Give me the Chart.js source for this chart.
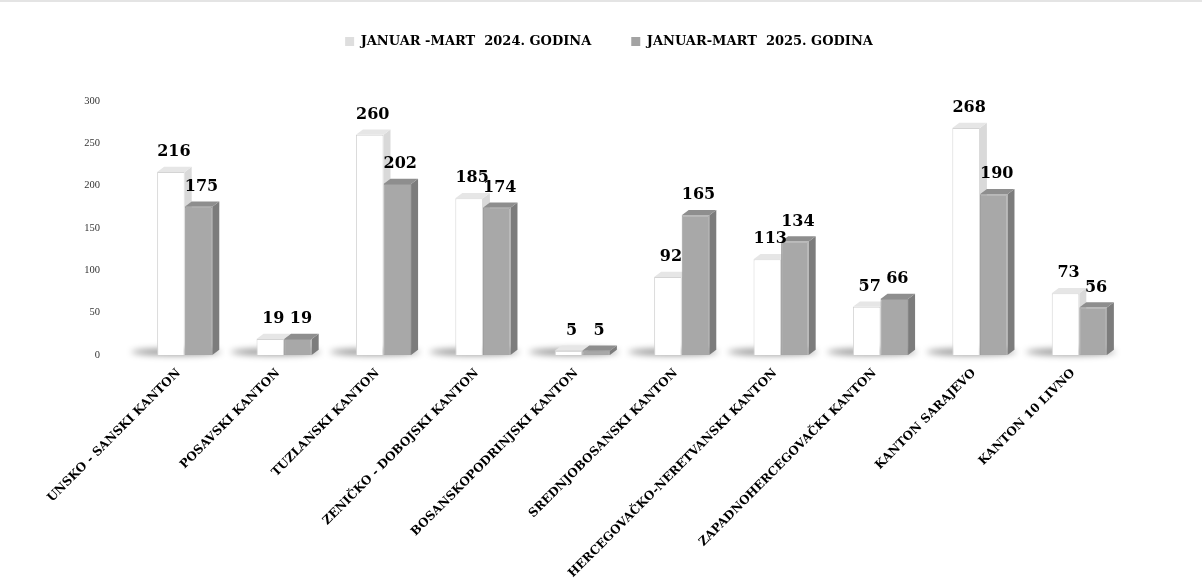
<!DOCTYPE html>
<html lang="en">
<head>
  <meta charset="utf-8">
  <title>Kantoni - januar-mart</title>
  <script src="https://cdn.jsdelivr.net/npm/chart.js"></script>
  <style>
    body { margin: 0; background: #fff; }
    .wrap { position: relative; width: 1202px; height: 587px; }
    /* thin grey rule along the top edge */
    .wrap::before { content: ''; position: absolute; left: 0; right: 0; top: 0; height: 2px; background: #e4e4e4; }
  </style>
</head>
<body>
  <div class="wrap">
    <canvas id="chart" width="1202" height="587"></canvas>
  </div>

  <script>
    // data
    const cantons = [
      'UNSKO - SANSKI KANTON', 'POSAVSKI KANTON', 'TUZLANSKI KANTON', 'ZENIČKO - DOBOJSKI KANTON',
      'BOSANSKOPODRINJSKI KANTON', 'SREDNJOBOSANSKI KANTON', 'HERCEGOVAČKO-NERETVANSKI KANTON',
      'ZAPADNOHERCEGOVAČKI KANTON', 'KANTON SARAJEVO', 'KANTON 10 LIVNO'
    ];
    const seriesNames = ['JANUAR -MART  2024. GODINA', 'JANUAR-MART  2025. GODINA'];
    const values2024 = [216, 19, 260, 185, 5, 92, 113, 57, 268, 73];
    const values2025 = [175, 19, 202, 174, 5, 165, 134, 66, 190, 56];
    const yTicks = [0, 50, 100, 150, 200, 250, 300];

    // colours for the fake 3D faces
    const frontColors = ['#ffffff', '#a8a8a8'];
    const borderColors = ['#d4d4d4', '#9a9a9a'];
    const sideColors = ['#d9d9d9', '#7c7c7c'];
    const topColors = ['#e6e6e6', '#8e8e8e'];
    const legendColors = ['#dedede', '#a3a3a3'];
    const depth = 7;

    // legend box gets a fixed height so the plot starts where the original does
    const legendHeight = {
      id: 'legendHeight',
      beforeInit(chart) {
        const fit = chart.legend.fit;
        chart.legend.fit = function () {
          fit.call(this);
          this.height = 106;
        };
      }
    };

    // draws side/top faces and the floor shadow before the fronts
    const bar3d = {
      id: 'bar3d',
      beforeDatasetsDraw(chart) {
        const ctx = chart.ctx;
        const m0 = chart.getDatasetMeta(0), m1 = chart.getDatasetMeta(1);
        m0.data.forEach((b, i) => {
          const g = m1.data[i];
          const left = b.x - b.width / 2 - 26;
          const right = g.x + g.width / 2 + depth + 2;
          ctx.save();
          ctx.filter = 'blur(3px)';
          ctx.fillStyle = 'rgba(0,0,0,0.4)';
          ctx.beginPath();
          ctx.ellipse((left + right) / 2, b.base - 3, (right - left) / 2, 3.5, 0, 0, Math.PI * 2);
          ctx.fill();
          ctx.restore();
        });
        chart.data.datasets.forEach((ds, di) => {
          chart.getDatasetMeta(di).data.forEach(b => {
            const l = b.x - b.width / 2, r = b.x + b.width / 2;
            const dy = depth * 0.75;
            ctx.save();
            ctx.fillStyle = sideColors[di];
            ctx.beginPath();
            ctx.moveTo(r, b.y);
            ctx.lineTo(r + depth, b.y - dy);
            ctx.lineTo(r + depth, b.base - dy);
            ctx.lineTo(r, b.base);
            ctx.closePath();
            ctx.fill();
            ctx.fillStyle = topColors[di];
            ctx.beginPath();
            ctx.moveTo(l, b.y);
            ctx.lineTo(l + depth, b.y - dy);
            ctx.lineTo(r + depth, b.y - dy);
            ctx.lineTo(r, b.y);
            ctx.closePath();
            ctx.fill();
            ctx.restore();
          });
        });
      },
      afterDatasetsDraw(chart) {
        const ctx = chart.ctx;
        ctx.save();
        ctx.font = 'bold 16px "DejaVu Serif"';
        ctx.fillStyle = '#000';
        ctx.textAlign = 'center';
        ctx.textBaseline = 'alphabetic';
        chart.data.datasets.forEach((ds, di) => {
          chart.getDatasetMeta(di).data.forEach((b, i) => {
            ctx.fillText(ds.data[i], b.x + 3, b.y - 16);
          });
        });
        ctx.restore();
      }
    };

    new Chart(document.getElementById('chart'), {
      type: 'bar',
      data: {
        labels: cantons,
        datasets: [
          { label: seriesNames[0], data: values2024, backgroundColor: frontColors[0], borderColor: borderColors[0], borderWidth: 1 },
          { label: seriesNames[1], data: values2025, backgroundColor: frontColors[1], borderColor: borderColors[1], borderWidth: 1 }
        ]
      },
      options: {
        responsive: false,
        animation: false,
        layout: { padding: { top: -5, right: 0, bottom: 0, left: 16 } },
        datasets: { bar: { categoryPercentage: 0.555, barPercentage: 1 } },
        plugins: {
          tooltip: { enabled: false },
          legend: {
            position: 'top',
            labels: {
              color: '#000',
              font: { family: '"DejaVu Serif"', size: 13, weight: 'bold' },
              boxWidth: 9,
              boxHeight: 9,
              padding: 40,
              generateLabels(chart) {
                return chart.data.datasets.map((ds, i) => ({
                  text: ds.label, fillStyle: legendColors[i], strokeStyle: legendColors[i],
                  lineWidth: 0, datasetIndex: i, fontColor: '#000'
                }));
              }
            }
          }
        },
        scales: {
          x: {
            grid: { display: false },
            border: { display: false },
            ticks: {
              color: '#000',
              maxRotation: 45,
              minRotation: 45,
              autoSkip: false,
              labelOffset: -6,
              font: { family: '"DejaVu Serif"', size: 12, weight: 'bold' }
            },
            afterFit(scale) { scale.height = 232; }
          },
          y: {
            min: 0,
            max: 300,
            grid: { display: false },
            border: { display: false },
            afterBuildTicks(scale) { scale.ticks = yTicks.map(v => ({ value: v })); },
            ticks: {
              color: '#333',
              padding: 27,
              font: { family: '"Liberation Serif"', size: 10.5 }
            },
            afterFit(scale) { scale.width = 119; }
          },
          // empty right-hand axis only reserves the margin on the right
          yRight: {
            type: 'linear',
            position: 'right',
            grid: { display: false },
            border: { display: false },
            ticks: { display: false },
            afterFit(scale) { scale.width = 73; }
          }
        }
      },
      plugins: [legendHeight, bar3d]
    });
  </script>
</body>
</html>
